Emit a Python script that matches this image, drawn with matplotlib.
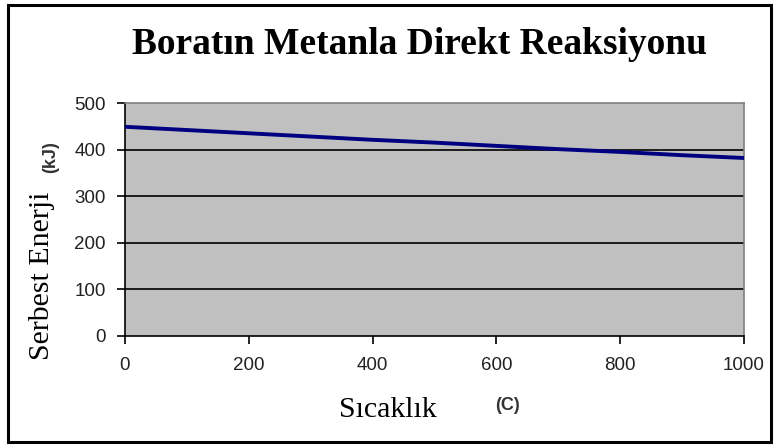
import matplotlib.pyplot as plt
from matplotlib.patches import Rectangle

# Serbest enerji (kJ) vs sicaklik (C)
sicaklik = [0, 100, 200, 300, 400, 500, 600, 700, 800, 900, 1000]
enerji = [449, 442, 435, 428, 421, 415, 408, 401, 395, 388, 382]

y_ticks = [0, 100, 200, 300, 400, 500]
x_ticks = [0, 200, 400, 600, 800, 1000]

fig = plt.figure(figsize=(7.78, 4.47), dpi=100)
fig.patch.set_facecolor("white")

# outer frame
fig.patches.append(Rectangle((8 / 778, 5 / 447), 763 / 778, 437 / 447,
                             transform=fig.transFigure, fill=False,
                             edgecolor="black", linewidth=2.2))

ax = fig.add_axes([125 / 778, (447 - 336) / 447, 619 / 778, 233 / 447])
ax.set_facecolor("#c0c0c0")
ax.plot(sicaklik, enerji, color="#000080", linewidth=2.8, zorder=3)

ax.set_xlim(0, 1000)
ax.set_ylim(0, 500)
ax.set_xticks(x_ticks)
ax.set_yticks(y_ticks)
for v in y_ticks[1:-1]:
    ax.axhline(v, color="black", linewidth=1.2, zorder=2)

for side in ["top", "right"]:
    ax.spines[side].set_color("#808080")
    ax.spines[side].set_linewidth(1.2)
for side in ["left", "bottom"]:
    ax.spines[side].set_color("black")
    ax.spines[side].set_linewidth(1.2)

ax.tick_params(direction="out", length=6, width=1.2, colors="black",
               labelsize=13.5)
ax.tick_params(axis="x", pad=9)
ax.tick_params(axis="y", pad=8)
for lbl in ax.get_xticklabels() + ax.get_yticklabels():
    lbl.set_family("Liberation Sans")
    lbl.set_color("#222222")

fig.text(420 / 778, 1 - 45 / 447, "Boratın Metanla Direkt Reaksiyonu",
         ha="center", va="center", family="Liberation Serif",
         fontsize=27, fontweight="bold")

fig.text(42 / 778, 1 - 276 / 447, "Serbest Enerji", rotation=90,
         ha="center", va="center", family="Liberation Serif", fontsize=21.5)
fig.text(51 / 778, 1 - 157 / 447, "(kJ)", rotation=90,
         ha="center", va="center", family="Liberation Sans", fontsize=13,
         fontweight="bold", color="#333333")
fig.text(388 / 778, 1 - 410 / 447, "Sıcaklık",
         ha="center", va="center", family="Liberation Serif", fontsize=21.5)
fig.text(507 / 778, 1 - 406 / 447, "(C)",
         ha="center", va="center", family="Liberation Sans", fontsize=13,
         fontweight="bold", color="#333333")

fig.savefig("out.png", dpi=100)
